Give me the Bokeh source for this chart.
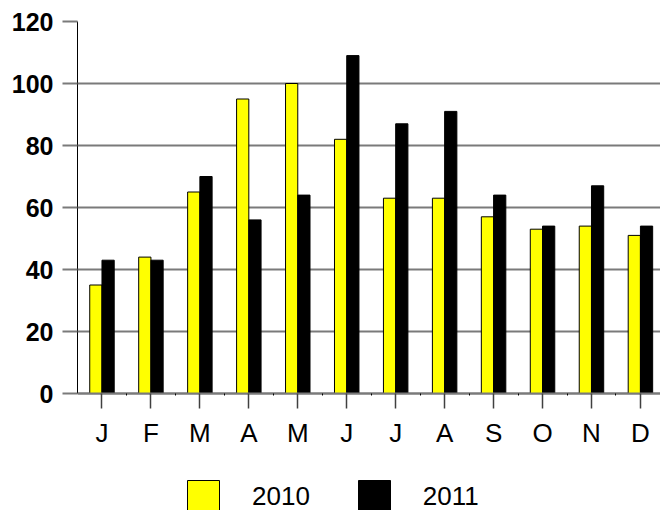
from bokeh.plotting import figure
from bokeh.models import Range1d, FixedTicker, Legend, LegendItem, ColumnDataSource
from bokeh.embed import file_html
from bokeh.resources import INLINE

months = ["J", "F", "M", "A", "M", "J", "J", "A", "S", "O", "N", "D"]
y2010 = [35, 44, 65, 95, 100, 82, 63, 63, 57, 53, 54, 51]
y2011 = [43, 43, 70, 56, 64, 109, 87, 91, 64, 54, 67, 54]
series_names = ["2010", "2011"]
y_ticks = [0, 20, 40, 60, 80, 100, 120]

idx = list(range(len(months)))
src = ColumnDataSource(dict(
    x1=[i - 0.125 for i in idx],
    x2=[i + 0.125 for i in idx],
    a=y2010,
    b=y2011,
))

W, H = 660, 510
# frame spans the whole lower area so that the legend (clipped to the frame) fits
p = figure(width=W, height=H, output_backend="svg", toolbar_location=None,
           x_range=Range1d(-0.5, 11.41), y_range=Range1d(-37.74, 120),
           min_border_left=77, min_border_right=0, min_border_top=21,
           min_border_bottom=0)
p.outline_line_color = None
p.background_fill_color = "white"

r1 = p.vbar(x="x1", top="a", bottom=0, width=0.25, source=src,
            fill_color="#FFFF00", line_color="black", line_width=1)
r2 = p.vbar(x="x2", top="b", bottom=0, width=0.25, source=src,
            fill_color="black", line_color="black", line_width=1)

# grid
p.xgrid.grid_line_color = None
p.ygrid.ticker = FixedTicker(ticks=y_ticks)
p.ygrid.grid_line_color = "#7a7a7a"
p.ygrid.grid_line_width = 2

# y axis
ya = p.yaxis[0]
ya.ticker = FixedTicker(ticks=y_ticks)
ya.bounds = (0, 120)
ya.axis_line_color = "black"
ya.axis_line_width = 1
ya.major_tick_out = 15
ya.major_tick_in = 0
ya.major_tick_line_color = "#7a7a7a"
ya.major_tick_line_width = 2
ya.minor_tick_line_color = None
ya.major_label_text_font = "Liberation Sans"
ya.major_label_text_font_style = "bold"
ya.major_label_text_font_size = "25px"
ya.major_label_text_color = "black"
ya.major_label_standoff = 9

# x axis, fixed at y = 0
xa = p.xaxis[0]
xa.fixed_location = 0
xa.ticker = FixedTicker(ticks=idx, minor_ticks=[i + 0.5 for i in idx])
xa.major_label_overrides = {i: m for i, m in enumerate(months)}
xa.axis_line_color = "#7a7a7a"
xa.axis_line_width = 2
xa.major_tick_out = 15
xa.major_tick_in = 0
xa.major_tick_line_color = "#404040"
xa.major_tick_line_width = 1.5
xa.minor_tick_out = 2
xa.minor_tick_in = 0
xa.minor_tick_line_color = "black"
xa.major_label_text_font = "Liberation Sans"
xa.major_label_text_font_size = "26px"
xa.major_label_text_color = "black"
xa.major_label_standoff = 9

legend = Legend(items=[LegendItem(label=series_names[0], renderers=[r1]),
                       LegendItem(label=series_names[1], renderers=[r2])],
                orientation="horizontal", location=(106, -6),
                glyph_width=40, glyph_height=40, label_standoff=29, spacing=44,
                padding=0, margin=0, border_line_alpha=0, background_fill_alpha=0,
                label_text_font="Liberation Sans", label_text_font_size="26px",
                label_text_color="black", label_height=40)
p.add_layout(legend, "center")

open("out.html", "w").write(file_html(p, INLINE))
